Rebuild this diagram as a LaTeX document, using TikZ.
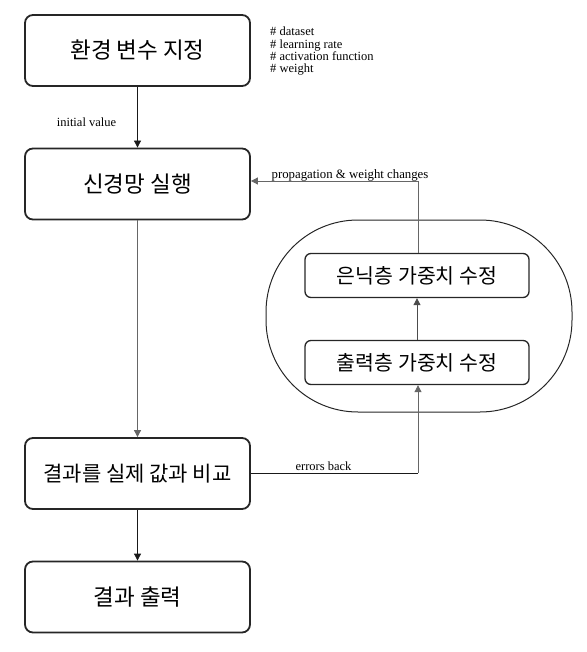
\documentclass[tikz,border=0pt]{standalone}
\usepackage{fontspec}
\setmainfont{Liberation Serif}
\newfontfamily\kr{Noto Sans CJK KR}
\usetikzlibrary{arrows.meta}
\begin{document}
\begin{tikzpicture}[x=1pt,y=-1pt,
  mainbox/.style={draw=black!85,line width=1.8pt,rounded corners=8pt,minimum width=225pt,minimum height=71pt,font=\kr\fontsize{22.5}{26}\selectfont,inner sep=0pt},
  subbox/.style={draw=black!85,line width=1.3pt,rounded corners=6pt,minimum width=224pt,minimum height=44pt,font=\kr\fontsize{20.5}{24}\selectfont,inner sep=0pt},
  conn/.style={line width=0.8pt,draw=black!70,-{Triangle[length=7pt,width=7pt]}},
  lbl/.style={font=\fontsize{12.5}{12.3}\selectfont,inner sep=0pt}]
\useasboundingbox (0,0) rectangle (586,652);
\node[mainbox] (env) at (137.5,50.5) {환경 변수 지정};
\node[mainbox] (run) at (137.5,184) {신경망 실행};
\node[mainbox,font=\kr\fontsize{21}{25}\selectfont] (cmp) at (137.5,473.5) {결과를 실제 값과 비교};
\node[mainbox] (out) at (137.5,597) {결과 출력};
\draw[line width=1pt,black!85,rounded corners=92pt] (266,220) rectangle (572,412);
\node[subbox] (hid) at (417,275.5) {은닉층 가중치 수정};
\node[subbox] (outw) at (417,362.5) {출력층 가중치 수정};
\node[lbl,anchor=north west,align=left] (cmt) at (270,27) {\# dataset\\\# learning rate\\\# activation function\\\# weight};
\draw[conn,draw=black!90] (env) -- (run);
\node[lbl] (iv) at (86.5,122) {initial value};
\draw[conn,draw=black!60] (run) -- (cmp);
\draw[conn,draw=black!90] (cmp) -- (out);
\draw[conn] (outw) -- (hid);
\coordinate (c1) at (418,181);
\draw[conn,draw=black!60] (hid.north -| c1) -- (c1) -- (run.east |- c1);
\node[lbl,font=\fontsize{12.8}{13}\selectfont] (pw) at (350,175.5) {propagation \& weight changes};
\coordinate (c2) at (418,473);
\draw[line width=0.8pt,black!90] (cmp.east |- c2) -- (c2);
\draw[conn,draw=black!60] (c2) -- (outw.south -| c2);
\node[lbl] (eb) at (323.5,466.5) {errors back};
\end{tikzpicture}
\end{document}
